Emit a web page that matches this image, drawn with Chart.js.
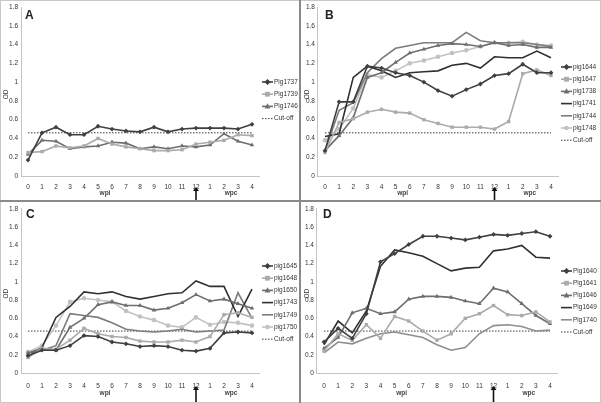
<!DOCTYPE html>
<html>
<head>
<meta charset="utf-8">
<script src="https://cdn.jsdelivr.net/npm/chart.js@4.4.0/dist/chart.umd.min.js"></script>
<style>
  body { margin: 0; background: #fff; }
  #wrap { position: relative; width: 601px; height: 403px; }
  #wrap canvas { position: absolute; }
  .vline { position: absolute; left: 299px; top: 0; width: 2px; height: 403px; background: #8a8a8a; }
  .hline { position: absolute; left: 0; top: 200px; width: 601px; height: 2px; background: #8a8a8a; }
  .frame { position: absolute; left: 0; top: 0; width: 599px; height: 401px; border: 1px solid #c8c8c8; }
</style>
</head>
<body>
<div id="wrap">
  <canvas id="cA" width="299" height="200" style="left:0;top:0"></canvas>
  <canvas id="cB" width="300" height="200" style="left:301px;top:0"></canvas>
  <canvas id="cC" width="299" height="201" style="left:0;top:202px"></canvas>
  <canvas id="cD" width="300" height="201" style="left:301px;top:202px"></canvas>
  <div class="frame"></div>
  <div class="vline"></div>
  <div class="hline"></div>
</div>
<script>
// weeks post infection (0-12) then weeks post challenge (1-4)
var weeks = ['0','1','2','3','4','5','6','7','8','9','10','11','12','1','2','3','4'];
var cutOff = 0.46;

// panel A
var namesA = ['Pig1737', 'Pig1739', 'Pig1746'];
var pig1737 = [0.17,0.46,0.52,0.44,0.44,0.53,0.50,0.48,0.47,0.52,0.47,0.50,0.51,0.51,0.51,0.50,0.55];
var pig1739 = [0.25,0.26,0.32,0.30,0.32,0.40,0.34,0.31,0.29,0.27,0.27,0.28,0.34,0.36,0.38,0.44,0.43];
var pig1746 = [0.23,0.38,0.37,0.29,0.31,0.32,0.36,0.35,0.29,0.31,0.29,0.32,0.31,0.33,0.45,0.37,0.33];

// panel B
var namesB = ['pig1644', 'pig1647', 'pig1738', 'pig1741', 'pig1744', 'pig1748'];
var pig1644 = [0.27,0.79,0.79,1.17,1.15,1.10,1.07,1.00,0.91,0.85,0.92,0.98,1.07,1.09,1.19,1.10,1.10];
var pig1647 = [0.25,0.57,0.61,0.68,0.71,0.68,0.67,0.60,0.56,0.52,0.52,0.52,0.50,0.58,1.09,1.13,1.07];
var pig1738 = [0.27,0.43,0.62,1.05,1.10,1.21,1.31,1.35,1.39,1.41,1.40,1.38,1.42,1.39,1.40,1.37,1.37];
var pig1741 = [0.42,0.45,1.05,1.17,1.12,1.05,1.10,1.11,1.12,1.18,1.20,1.15,1.27,1.26,1.26,1.33,1.26];
var pig1744 = [0.27,0.70,0.78,1.10,1.25,1.36,1.39,1.42,1.42,1.42,1.53,1.44,1.42,1.42,1.42,1.40,1.38];
var pig1748 = [0.38,0.50,0.72,1.08,1.05,1.12,1.20,1.23,1.27,1.31,1.34,1.38,1.42,1.42,1.43,1.40,1.39];

// panel C
var namesC = ['pig1645', 'pig1648', 'pig1650', 'pig1743', 'pig1749', 'pig1750'];
var pig1645 = [0.19,0.25,0.25,0.30,0.41,0.40,0.34,0.32,0.29,0.30,0.29,0.25,0.24,0.27,0.44,0.45,0.44];
var pig1648 = [0.17,0.27,0.26,0.36,0.49,0.43,0.40,0.39,0.35,0.34,0.34,0.36,0.34,0.40,0.64,0.66,0.61];
var pig1650 = [0.22,0.27,0.25,0.50,0.60,0.75,0.78,0.74,0.74,0.69,0.71,0.77,0.86,0.79,0.81,0.76,0.71];
var pig1743 = [0.18,0.28,0.61,0.73,0.89,0.87,0.89,0.84,0.81,0.84,0.87,0.88,1.01,0.95,0.95,0.62,0.92];
var pig1749 = [0.22,0.25,0.30,0.65,0.63,0.61,0.55,0.48,0.46,0.45,0.46,0.48,0.45,0.46,0.47,0.88,0.60];
var pig1750 = [0.23,0.30,0.52,0.78,0.82,0.80,0.78,0.68,0.62,0.58,0.52,0.50,0.61,0.53,0.56,0.55,0.52];

// panel D
var namesD = ['Pig1640', 'Pig1641', 'Pig1646', 'Pig1649', 'Pig1740'];
var pig1640 = [0.34,0.49,0.38,0.65,1.22,1.31,1.41,1.50,1.50,1.48,1.46,1.49,1.52,1.51,1.53,1.55,1.50];
var pig1641 = [0.24,0.43,0.36,0.53,0.38,0.62,0.57,0.46,0.36,0.43,0.60,0.65,0.74,0.64,0.63,0.67,0.56];
var pig1646 = [0.27,0.39,0.66,0.71,0.65,0.67,0.81,0.84,0.84,0.83,0.79,0.76,0.93,0.89,0.76,0.63,0.54];
var pig1649 = [0.31,0.57,0.44,0.68,1.17,1.35,1.32,1.28,1.20,1.12,1.15,1.16,1.34,1.36,1.40,1.27,1.26];
var pig1740 = [0.22,0.34,0.32,0.38,0.43,0.45,0.42,0.39,0.31,0.25,0.28,0.43,0.52,0.53,0.51,0.46,0.47];

// line styles, same order in every panel
var styles = [
  { color: '#404040', point: 'rectRot', r: 2.4 },
  { color: '#ababab', point: 'rect', r: 2.4 },
  { color: '#6e6e6e', point: 'triangle', r: 2.6 },
  { color: '#303030', point: false, r: 0 },
  { color: '#7c7c7c', point: false, r: 0 },
  { color: '#c2c2c2', point: 'circle', r: 2.3 }
];
var stylesD = [styles[0], styles[1], styles[2], styles[3], { color: '#8e8e8e', point: false, r: 0 }];

var FONT = '"Liberation Sans", Arial, sans-serif';

function markerPath(c, style, x, y, r) {
  c.beginPath();
  if (style === 'rectRot') {
    c.moveTo(x, y - r * 1.3); c.lineTo(x + r * 1.3, y); c.lineTo(x, y + r * 1.3); c.lineTo(x - r * 1.3, y); c.closePath();
  } else if (style === 'rect') {
    c.rect(x - r, y - r, r * 2, r * 2);
  } else if (style === 'triangle') {
    c.moveTo(x, y - r * 1.2); c.lineTo(x + r * 1.1, y + r * 0.8); c.lineTo(x - r * 1.1, y + r * 0.8); c.closePath();
  } else {
    c.arc(x, y, r, 0, Math.PI * 2);
  }
  c.fill();
}

var decor = {
  id: 'decor',
  afterDraw: function(chart, args, o) {
    var c = chart.ctx, xs = chart.scales.x, ys = chart.scales.y;
    c.save();
    // panel letter
    c.fillStyle = '#222';
    c.font = 'bold 12px ' + FONT;
    c.textAlign = 'left';
    c.textBaseline = 'alphabetic';
    c.fillText(o.letter, o.letterX, o.letterY);
    // y title
    c.font = '6.5px ' + FONT;
    c.fillStyle = '#333';
    c.save();
    c.translate(6, ys.getPixelForValue(0.87));
    c.rotate(-Math.PI / 2);
    c.textAlign = 'center';
    c.textBaseline = 'middle';
    c.fillText('OD', 0, 0);
    c.restore();
    // period labels
    c.textAlign = 'center';
    c.textBaseline = 'middle';
    c.font = 'bold 6.5px ' + FONT;
    c.fillStyle = '#444';
    c.fillText('wpi', (xs.getPixelForValue(5) + xs.getPixelForValue(6)) / 2, o.subY);
    c.fillText('wpc', (xs.getPixelForValue(14) + xs.getPixelForValue(15)) / 2, o.subY);
    // arrow at challenge week
    var ax = xs.getPixelForValue(12);
    c.strokeStyle = '#111';
    c.fillStyle = '#111';
    c.lineWidth = 1.6;
    c.beginPath();
    c.moveTo(ax, o.arrowTop + 3);
    c.lineTo(ax, chart.height);
    c.stroke();
    c.beginPath();
    c.moveTo(ax, o.arrowTop);
    c.lineTo(ax + 3, o.arrowTop + 4);
    c.lineTo(ax - 3, o.arrowTop + 4);
    c.closePath();
    c.fill();
    // legend
    c.font = '6.5px ' + FONT;
    c.textAlign = 'left';
    chart.data.datasets.forEach(function(ds, i) {
      var y = o.legY + i * 12.2;
      var x0 = o.legX;
      c.strokeStyle = ds.borderColor;
      c.lineWidth = ds.borderWidth;
      c.setLineDash(ds.borderDash || []);
      c.beginPath();
      c.moveTo(x0, y);
      c.lineTo(x0 + 11, y);
      c.stroke();
      c.setLineDash([]);
      if (ds.pointStyle) {
        c.fillStyle = ds.borderColor;
        markerPath(c, ds.pointStyle, x0 + 5.5, y, ds.pointRadius);
      }
      c.fillStyle = '#333';
      c.fillText(ds.label, x0 + 12, y);
    });
    c.restore();
  }
};

function buildPanel(id, names, series, sty, geo) {
  var step = (geo.last - geo.first) / 16;
  var areaLeft = geo.first - step / 2;
  var areaRight = geo.last + step / 2;
  var canvas = document.getElementById(id);
  var datasets = series.map(function(vals, i) {
    var s = sty[i];
    return {
      label: names[i],
      data: vals,
      borderColor: s.color,
      backgroundColor: s.color,
      borderWidth: 1.6,
      pointStyle: s.point,
      pointRadius: s.r,
      pointBorderWidth: 0,
      tension: 0
    };
  });
  datasets.push({
    label: 'Cut-off',
    data: weeks.map(function() { return cutOff; }),
    borderColor: '#3a3a3a',
    backgroundColor: '#3a3a3a',
    borderWidth: 1,
    borderDash: [1.5, 1.5],
    pointRadius: 0,
    pointStyle: false
  });
  return new Chart(canvas.getContext('2d'), {
    type: 'line',
    data: { labels: weeks, datasets: datasets },
    plugins: [decor],
    options: {
      responsive: false,
      animation: false,
      layout: { padding: { left: 0, top: geo.top, right: canvas.width - areaRight, bottom: 0 } },
      plugins: {
        legend: { display: false },
        tooltip: { enabled: false },
        decor: geo.decor
      },
      scales: {
        x: {
          offset: true,
          grid: { display: false, drawTicks: false },
          border: { color: '#c4c4c4', width: 1 },
          ticks: { color: '#333', font: { family: FONT, size: 6.5 }, padding: geo.tickPad, autoSkip: false, maxRotation: 0 },
          afterFit: function(scale) { scale.height = canvas.height - geo.zero; }
        },
        y: {
          min: 0,
          max: 1.8,
          grid: { display: false, drawTicks: false },
          border: { color: '#c4c4c4', width: 1 },
          ticks: {
            stepSize: 0.2,
            color: '#333',
            font: { family: FONT, size: 6.5 },
            padding: 3,
            callback: function(v) { return String(Math.round(v * 10) / 10); }
          },
          afterFit: function(scale) { scale.width = areaLeft; }
        }
      }
    }
  });
}

buildPanel('cA', namesA, [pig1737, pig1739, pig1746], styles,
  { first: 28, last: 252, top: 7, zero: 176, tickPad: 7,
    decor: { letter: 'A', letterX: 25, letterY: 19, subY: 193, arrowTop: 187, legX: 262, legY: 82 } });

buildPanel('cB', namesB, [pig1644, pig1647, pig1738, pig1741, pig1744, pig1748], styles,
  { first: 24, last: 250, top: 7, zero: 176, tickPad: 7,
    decor: { letter: 'B', letterX: 24, letterY: 19, subY: 193, arrowTop: 187, legX: 260, legY: 67 } });

buildPanel('cC', namesC, [pig1645, pig1648, pig1650, pig1743, pig1749, pig1750], styles,
  { first: 28, last: 252, top: 4, zero: 171, tickPad: 9,
    decor: { letter: 'C', letterX: 26, letterY: 16, subY: 191, arrowTop: 184, legX: 262, legY: 64 } });

buildPanel('cD', namesD, [pig1640, pig1641, pig1646, pig1649, pig1740], stylesD,
  { first: 23, last: 249, top: 4, zero: 171, tickPad: 9,
    decor: { letter: 'D', letterX: 22, letterY: 16, subY: 191, arrowTop: 184, legX: 260, legY: 69 } });
</script>
</body>
</html>
